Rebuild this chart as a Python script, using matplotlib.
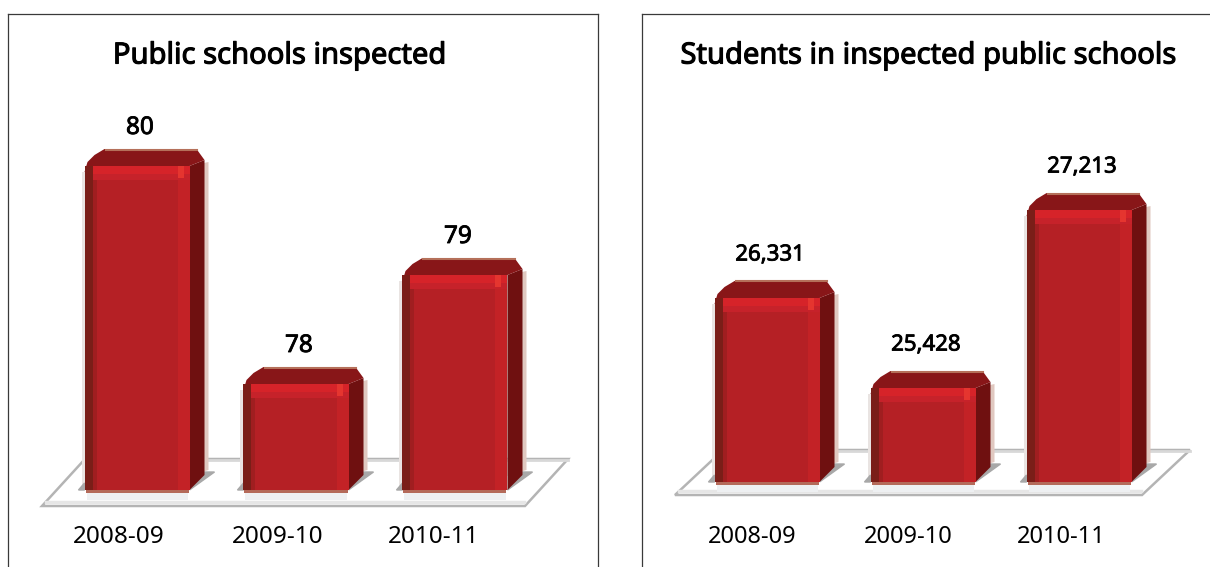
import matplotlib
matplotlib.use('Agg')
import matplotlib.pyplot as plt
import matplotlib.patheffects as pe
from matplotlib.patches import Polygon
from matplotlib.transforms import Affine2D

W, H = 1210, 567

years = ['2008-09', '2009-10', '2010-11']
schools = [80, 78, 79]
students = [26331, 25428, 27213]
schools_labels = ['80', '78', '79']
students_labels = ['26,331', '25,428', '27,213']

plt.rcParams['font.family'] = ['Noto Sans', 'DejaVu Sans']

fig = plt.figure(figsize=(W / 100, H / 100), dpi=100, facecolor='white')
# reference is measured in pixels from the top left
pix = Affine2D().scale(1, -1).translate(0, H)


def panel(x0, x1, first_x, step, ref_val, ref_py, per_unit, base_py,
          values, labels, title, floor, title_x, year_x, year_y, val_size, val_up, year_size, right_spine=True):
    top = 14
    ax = fig.add_axes([x0 / W, 0, (x1 - x0) / W, (H - top) / H])
    ax.set_xlim((x0 - first_x) / step, (x1 - first_x) / step)
    ax.set_ylim(ref_val - (H - ref_py) / per_unit, ref_val + (ref_py - top) / per_unit)
    base = ref_val - (base_py - ref_py) / per_unit
    ax.set_xticks([])
    ax.set_yticks([])
    for s in ['left', 'top', 'right']:
        ax.spines[s].set_color('#3a3a3a')
        ax.spines[s].set_linewidth(0.9)
    ax.spines['bottom'].set_visible(False)
    ax.spines['right'].set_visible(right_spine)

    # floor plate
    fl, fr, fb, ft, skew = floor
    ax.add_patch(Polygon([(fl, fb), (fr, fb), (fr + skew, ft), (fl + skew, ft)], closed=True,
                         facecolor='white', edgecolor='#b4b4b4', lw=1.8, transform=pix, zorder=1))
    ax.plot([fl + 4, fr - 1], [fb - 4, fb - 4], color='#e6e6e6', lw=2.5, transform=pix, zorder=1)
    ax.plot([fl + skew, fr + skew], [ft + 1, ft + 1], color='#d8d8d8', lw=2, transform=pix, zorder=1)

    sx = 1 / step
    sy = 1 / per_unit
    w = 105 * sx
    dx, dy = 15, 16
    for i, v in enumerate(values):
        left = i - w / 2
        right = i + w / 2
        # soft shadows round the box
        ax.bar(left - 1.5 * sx, v - base - 6 * sy, width=3 * sx, bottom=base, color='#e9e4e2', zorder=2)
        ax.add_patch(Polygon([(right, base + 14 * sy), (right + (dx + 4) * sx, base + 20 * sy),
                              (right + (dx + 4) * sx, v + (dy - 12) * sy), (right, v)],
                             facecolor='#e0c8c0', edgecolor='none', zorder=2))
        # ground shadow at the foot
        ax.add_patch(Polygon([(left - 6 * sx, base), (left, base + 7 * sy), (left, base)],
                             facecolor='#a8a8a8', edgecolor='#a8a8a8', lw=1, zorder=2))
        ax.add_patch(Polygon([(right, base), (right + (dx + 10) * sx, base + 18 * sy),
                              (right + dx * sx, base + 18 * sy)],
                             facecolor='#a8a8a8', edgecolor='#a8a8a8', lw=1, zorder=2))
        ax.bar(i, -3 * sy, width=w - 2 * sx, bottom=base, color='#b46a5a', zorder=3)
        ax.bar(i, -7 * sy, width=w - 4 * sx, bottom=base - 3 * sy, color='#eef0f2', zorder=2)
        # side and top of the box
        ax.add_patch(Polygon([(right, base), (right + dx * sx, base + (dy - 1) * sy),
                              (right + dx * sx, v + (dy - 10) * sy), (right, v)],
                             facecolor='#6f1010', edgecolor='none', zorder=3))
        ax.add_patch(Polygon([(left, v - 6 * sy), (left + 3 * sx, v + 4 * sy), (left + 10 * sx, v + 11 * sy),
                              (left + 20 * sx, v + (dy + 1) * sy), (right + 7 * sx, v + (dy + 1) * sy),
                              (right + dx * sx, v + (dy - 10) * sy), (right, v)],
                             facecolor='#881618', edgecolor='none', zorder=3))
        ax.plot([left + 21 * sx, right + 7 * sx], [v + (dy + 0.5) * sy] * 2, color='#b5705a', lw=1.5, zorder=4)
        # front with its bevel strips
        ax.bar(i, v - base, width=w, bottom=base, color='#b52025', zorder=4)
        ax.bar(left + 4 * sx, v - base, width=8 * sx, bottom=base, color='#7a1e18', zorder=5)
        ax.bar(left + 10 * sx, v - base, width=4 * sx, bottom=base, color='#a01e20', zorder=5)
        ax.bar(right - 6 * sx, v - base, width=12 * sx, bottom=base, color='#c32226', zorder=5)
        ax.bar(i + 4 * sx, -8 * sy, width=w - 8 * sx, bottom=v, color='#d62329', zorder=6)
        ax.bar(i + 4 * sx, -6 * sy, width=w - 8 * sx, bottom=v - 8 * sy, color='#c6222a', zorder=6)
        ax.bar(right - 9 * sx, -12 * sy, width=6 * sx, bottom=v, color='#e5352f', zorder=6)
        ax.annotate(labels[i], xy=(i, v), xytext=(3, val_up), textcoords='offset pixels',
                    ha='center', va='center', fontsize=val_size, color='black', zorder=7,
                    path_effects=[pe.withStroke(linewidth=0.6, foreground='black')])
    for i in range(3):
        ax.text(year_x[i], year_y, years[i], transform=pix, ha='center', va='center',
                fontsize=year_size, color='black')
    ax.text(title_x, 56, title, transform=pix, ha='center', va='center', fontsize=21,
            color='black', path_effects=[pe.withStroke(linewidth=0.8, foreground='black')])
    return ax


ax1 = panel(8, 598, 137, 159, 80, 166, 109, 490, schools, schools_labels,
            'Public schools inspected', (42, 525, 506, 459, 43), 280, [119, 278, 434], 537, 17.5, 38, 17.5)
ax2 = panel(642, 1212, 767, 156, 26331, 298, 0.0997, 482, students, students_labels,
            'Students in inspected public schools', (675, 1142, 495, 450, 48), 929, [752, 908, 1061], 537, 16, 43, 17,
            right_spine=False)

fig.savefig('out.png', dpi=100, facecolor='white')
